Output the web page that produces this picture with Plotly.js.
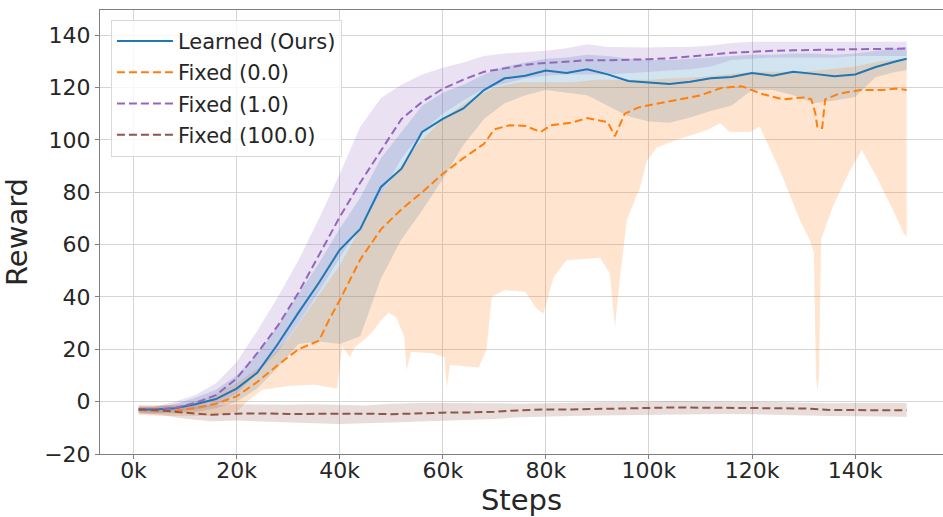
<!DOCTYPE html>
<html><head><meta charset="utf-8">
<script src="https://cdn.plot.ly/plotly-3.0.1.min.js"></script>
<style>html,body{margin:0;padding:0;background:#fff}#chart{width:943px;height:517px}</style>
</head><body><div id="chart"></div>
<script>
// Steps in thousands
const mainSteps = [1,4,8,12,16,20,24,28,32,36,40,44,48,52,56,60,64,68,72,76,80,84,88,92,96,100,104,108,112,116,120,124,128,132,136,140,144,148,150];

const learnedMean  = [-3,-3,-2.5,-1,1,5,11,22,34,45.5,58,66,82,89,103,108,112,119,123.5,124.5,126.5,125.5,127,125,122.5,122,121.3,122.2,123.5,124,125.5,124.5,126,125.2,124.3,125,127.8,130,131];
const learnedUpper = [-2,-2,-1,1.5,4.5,10,18,29,41,53,66,78,93,103,113,118,121,125,128,129.5,131,131.5,132.5,132,131,130.5,130.5,131,131.5,132,132.5,132.5,133,133,132.5,133,134,135,135.5];
const learnedLower = [-4,-4.5,-4.5,-4,-2.5,0,5,13,22,23,22,25,47,62,73,85,98,108,114,117,119,118,117,113,109,107,106.5,108.5,111,113,119,119,117,114,115,116.4,124,126,126.6];

const fixed1Mean  = [-3,-3,-2.5,-0.5,2.5,8.8,18.5,29,41.6,56,70.5,83.7,96,108,114.5,119.5,123,126,127.3,128.7,129.4,130,130.4,130.4,130.5,130.8,131.2,131.8,132.5,133.3,133.7,134,134.2,134.4,134.5,134.6,134.7,134.8,134.9];
const fixed1Upper = [-2,-2,0,2.5,7,15,27,40,54,70,87,105,116,121,125,127.5,129.5,132,133,133.5,134,135,136.5,135.5,135.3,135.3,135.5,135.5,136,137,137.5,137.5,137.5,137.5,137.5,137.5,137.5,137.5,137.5];
const fixed1Lower = [-4.5,-4.5,-4,-3,-1.5,3,11,19,30,42,55,67,79,93,103,110,115,119.5,121.5,123.5,124.5,125,125,125,125.5,126,126.5,127,128,130.5,131,131.5,131.5,131.5,131.5,132,132,132,132];

const fixed0Steps = [1,4,8,12,16,20,24,28,32,36,38,40,44,48,52,56,60,64,68,70,73,76,79,81,85,88,92,93.4,95.3,98,102,106,110,114,118,122,126,130,131.5,132.3,132.7,133.6,134.2,137,141,145,148,150];
const fixed0Mean  = [-3,-3.5,-3.5,-2.5,-0.8,2,7.5,14,20,23.3,31.5,38.7,54.3,65.8,73.5,80,87,93,98.5,104,105.6,105.3,103,105.6,106.6,108.3,106.8,101.4,110,112.4,114,115.4,117,119.8,120.5,117.5,115.5,116.2,115.5,110,104.5,104.5,115.5,117.7,119,119,119.6,119];

const fixed0UpperSteps = [1,5,10,15,20,25,30,35,40,45,50,55,60,65,70,75,80,85,90,95,100,105,110,115,120,125,130,135,140,145,150];
const fixed0Upper = [-1.5,-1.5,-1,2,7,14,24,38,52,70,85,98,108,115,120,122,122,122,123,123,123,123.5,124,125,126,126,126,127,128,130,131];

const fixed0LowerSteps = [1,5,10,15,20,22,25,30,35,38,39.5,40.5,42,43,45,46.5,48,49.5,51,52.5,53,53.8,58,60.3,60.8,61.4,67,68.5,69.5,72,76,78,79.5,81.5,84,90.5,92.4,93.4,94.4,95.7,98.3,99.6,101.5,105.4,111.2,113.8,115.7,119.6,121.5,125.4,129.3,131.2,132,132.4,132.7,133,133.4,135.7,139,141.3,144.2,147.4,149.4,150];
const fixed0Lower = [-5,-5.5,-5.5,-5.5,-4,0,4.5,6,6.5,5.5,5,21,17,21,24,27,31,34,32,25,12,19,18.5,17,5.5,14,13,20,40,42.6,42,36,33.6,47.6,54,55,49,28.4,47.6,69.3,82,92,97,100,103.7,106.3,103,103,105,88.4,69.3,61.7,57,10,4,10,62,74.5,88.4,96,85.7,73,64.3,63];

const fixed100Steps = [1,5,10,15,20,25,30,35,40,45,50,55,60,65,70,75,80,85,90,95,100,105,110,115,120,125,130,135,140,145,150];
const fixed100Mean  = [-3,-3.3,-4.2,-5,-4.6,-4.5,-4.7,-4.6,-4.5,-4.6,-4.8,-4.4,-4.2,-4.1,-3.9,-3.3,-3,-3,-2.8,-2.7,-2.6,-2.2,-2.3,-2.4,-2.4,-2.5,-2.6,-3.2,-3.3,-3.3,-3.3];
const fixed100Upper = [-1.5,-1.5,-1.5,-1.5,-1,-1.2,-1.2,-1,-1.2,-1.5,-0.8,-0.5,-0.5,-0.5,-0.6,-0.8,-0.5,-0.4,-0.2,-0.2,0,0.2,0,0,0,-0.2,-0.3,-0.6,-0.5,-0.5,-0.5];
const fixed100Lower = [-4.5,-5,-6.5,-7.5,-7.2,-7.5,-8,-8.3,-8.5,-8.3,-8,-7.8,-7.3,-7,-6.6,-6,-5.8,-5.5,-5.3,-5.2,-5,-4.8,-4.8,-4.7,-4.8,-5,-5.2,-5.5,-5.6,-5.8,-5.8];

const seriesNames = ['Learned (Ours)','Fixed (0.0)','Fixed (1.0)','Fixed (100.0)'];
const xTickVals = [0,20,40,60,80,100,120,140];
const xTickText = ['0k','20k','40k','60k','80k','100k','120k','140k'];
const yTickVals = [-20,0,20,40,60,80,100,120,140];

const C = {blue:'#1f77b4', orange:'#ff7f0e', purple:'#9467bd', brown:'#8c564b'};
function rgba(hex,a){const n=parseInt(hex.slice(1),16);return `rgba(${n>>16},${(n>>8)&255},${n&255},${a})`;}

function band(xu, yu, xl, yl, color){
  return {x: xu.concat(xl.slice().reverse()), y: yu.concat(yl.slice().reverse()),
    type:'scatter', mode:'lines', fill:'toself', fillcolor: rgba(color,0.2),
    line:{width:0}, hoverinfo:'skip', showlegend:false};
}
function line(x, y, color, dash, name, g){
  return {x, y, type:'scatter', mode:'lines', name, legendgroup:g,
    line:{color, width:2, dash}};
}

const traces = [
  band(mainSteps, learnedUpper, mainSteps, learnedLower, C.blue),
  band(fixed0UpperSteps, fixed0Upper, fixed0LowerSteps, fixed0Lower, C.orange),
  band(mainSteps, fixed1Upper, mainSteps, fixed1Lower, C.purple),
  band(fixed100Steps, fixed100Upper, fixed100Steps, fixed100Lower, C.brown),
  line(mainSteps, learnedMean, C.blue, 'solid', seriesNames[0], 'a'),
  line(fixed0Steps, fixed0Mean, C.orange, '8px,4px', seriesNames[1], 'b'),
  line(mainSteps, fixed1Mean, C.purple, '8px,4px', seriesNames[2], 'c'),
  line(fixed100Steps, fixed100Mean, C.brown, '8px,4px', seriesNames[3], 'd')
];

const font = 'DejaVu Sans, sans-serif';
const layout = {
  width:943, height:517,
  margin:{l:100, r:0, t:10, b:63},
  paper_bgcolor:'#fff', plot_bgcolor:'#fff',
  font:{family:font, color:'#262626'},
  showlegend:true,
  legend:{x:0.013, y:0.978, xanchor:'left', yanchor:'top',
    bgcolor:'rgba(255,255,255,0.8)', bordercolor:'#d9d9d9', borderwidth:1,
    font:{family:font, size:21, color:'#262626'}, traceorder:'grouped', tracegroupgap:1,
    itemwidth:56},
  xaxis:{range:[-6.5,157.05], tickmode:'array', tickvals:xTickVals, ticktext:xTickText,
    showgrid:true, gridcolor:'#d5d5d5', gridwidth:1, zeroline:false,
    showline:true, linecolor:'#808080', linewidth:1, mirror:true,
    ticks:'outside', ticklen:4, tickcolor:'#808080', ticklabelstandoff:-7,
    tickfont:{family:font, size:22, color:'#262626'},
    title:{text:'Steps', font:{family:font, size:29, color:'#262626'}, standoff:2}},
  yaxis:{range:[-20,149.6], tickvals:yTickVals,
    showgrid:true, gridcolor:'#d5d5d5', gridwidth:1, zeroline:false,
    showline:true, linecolor:'#808080', linewidth:1, mirror:true,
    ticks:'outside', ticklen:4, tickcolor:'#808080',
    tickfont:{family:font, size:22, color:'#262626'},
    title:{text:'Reward', font:{family:font, size:29, color:'#262626'}, standoff:8}}
};
Plotly.newPlot('chart', traces, layout, {displayModeBar:false, staticPlot:true});
</script></body></html>
